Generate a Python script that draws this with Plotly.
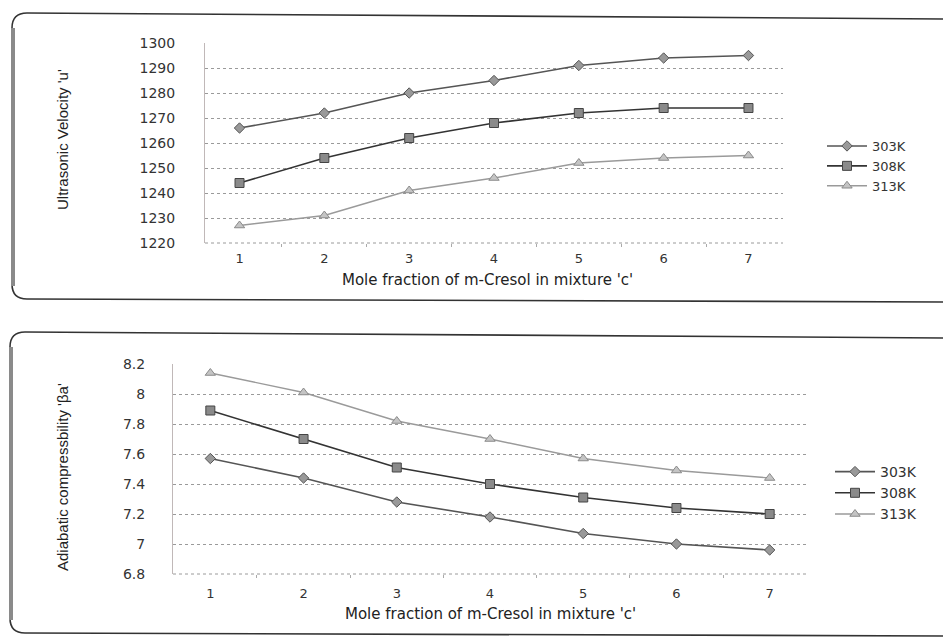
import plotly.graph_objects as go

W, H = 943, 637

# ---------------- data ----------------
categories = ["1", "2", "3", "4", "5", "6", "7"]
series_names = ["303K", "308K", "313K"]

velocity_303 = [1266, 1272, 1280, 1285, 1291, 1294, 1295]
velocity_308 = [1244, 1254, 1262, 1268, 1272, 1274, 1274]
velocity_313 = [1227, 1231, 1241, 1246, 1252, 1254, 1255]

compress_303 = [7.57, 7.44, 7.28, 7.18, 7.07, 7.00, 6.96]
compress_308 = [7.89, 7.70, 7.51, 7.40, 7.31, 7.24, 7.20]
compress_313 = [8.14, 8.01, 7.82, 7.70, 7.57, 7.49, 7.44]

x_title = "Mole fraction of m-Cresol in mixture 'c'"
y_title_top = "Ultrasonic Velocity 'u'"
y_title_bot = "Adiabatic compressbility 'βa'"


def px(x):
    return x / W


def py(y):
    return 1 - y / H


WIDE = "DejaVu Sans"
NARROW = "Liberation Sans Narrow, Arial Narrow, Liberation Sans"

styles = {
    "303K": dict(line=dict(color="#555555", width=1.6),
                 marker=dict(symbol="diamond", size=8, color="#999999",
                             line=dict(color="#555555", width=1))),
    "308K": dict(line=dict(color="#333333", width=1.6),
                 marker=dict(symbol="square", size=9, color="#8a8a8a",
                             line=dict(color="#444444", width=1))),
    "313K": dict(line=dict(color="#9a9a9a", width=1.4),
                 marker=dict(symbol="triangle-up", size=9, color="#c4c4c4",
                             line=dict(color="#8a8a8a", width=1))),
}

fig = go.Figure()

top_vals = [velocity_303, velocity_308, velocity_313]
bot_vals = [compress_303, compress_308, compress_313]

for name, vals in zip(series_names, top_vals):
    fig.add_trace(go.Scatter(x=categories, y=vals, name=name, mode="lines+markers",
                             xaxis="x", yaxis="y", legend="legend", **styles[name]))
for name, vals in zip(series_names, bot_vals):
    fig.add_trace(go.Scatter(x=categories, y=vals, name=name, mode="lines+markers",
                             xaxis="x2", yaxis="y2", legend="legend2", **styles[name]))

axis_common_x = dict(type="category", showgrid=False, showline=False, zeroline=False,
                     ticks="outside", tickson="boundaries", ticklen=3, tickcolor="#aaaaaa",
                     tickfont=dict(family=WIDE, size=13, color="#333333"))
axis_common_y = dict(showgrid=True, gridcolor="#9a9a9a", griddash="dot", gridwidth=1,
                     showline=True, linecolor="#c0b8b8", linewidth=1, zeroline=False,
                     ticks="", tickfont=dict(family=WIDE, size=14, color="#333333"))

fig.update_layout(
    width=W, height=H,
    margin=dict(l=0, r=0, t=0, b=0, autoexpand=False),
    paper_bgcolor="white", plot_bgcolor="white",
    xaxis=dict(domain=[px(205), px(783)], anchor="y", ticklabelstandoff=6, **axis_common_x),
    yaxis=dict(domain=[py(243), py(43)], anchor="x", range=[1220, 1300], dtick=10,
               ticklabelstandoff=26, **axis_common_y),
    xaxis2=dict(domain=[px(173), px(807)], anchor="y2", ticklabelstandoff=10, **axis_common_x),
    yaxis2=dict(domain=[py(574), py(364)], anchor="x2", range=[6.8, 8.2], dtick=0.2,
                ticklabelstandoff=24, **axis_common_y),
    legend=dict(x=px(822), y=py(131), xanchor="left", yanchor="top",
                font=dict(family=WIDE, size=13, color="#333333"),
                bgcolor="rgba(0,0,0,0)", itemwidth=40, tracegroupgap=0),
    legend2=dict(x=px(830), y=py(456), xanchor="left", yanchor="top",
                 font=dict(family=WIDE, size=14, color="#333333"),
                 bgcolor="rgba(0,0,0,0)", itemwidth=40, tracegroupgap=0),
    showlegend=True,
)

annotations = [
    dict(text=x_title, x=px(487), y=py(280), showarrow=False,
         font=dict(family=WIDE, size=15, color="#222222"), xanchor="center", yanchor="middle"),
    dict(text=x_title, x=px(490), y=py(614), showarrow=False,
         font=dict(family=WIDE, size=15, color="#222222"), xanchor="center", yanchor="middle"),
    dict(text=y_title_top, x=px(62), y=py(140), showarrow=False, textangle=-90,
         font=dict(family=NARROW, size=15, color="#222222"), xanchor="center", yanchor="middle"),
    dict(text=y_title_bot, x=px(62), y=py(477), showarrow=False, textangle=-90,
         font=dict(family=NARROW, size=15, color="#222222"), xanchor="center", yanchor="middle"),
]
for a in annotations:
    a.update(xref="paper", yref="paper")
fig.update_layout(annotations=annotations)


def box_path(left, top_l, top_r, bottom_l, bottom_r, r=15):
    pts = [
        f"M {px(W + 5)} {py(top_r)}",
        f"L {px(left + r)} {py(top_l)}",
        f"Q {px(left)} {py(top_l)} {px(left)} {py(top_l + r)}",
        f"L {px(left)} {py(bottom_l - r)}",
        f"Q {px(left)} {py(bottom_l)} {px(left + r)} {py(bottom_l)}",
        f"L {px(W + 5)} {py(bottom_r)}",
    ]
    return " ".join(pts)


shapes = [
    dict(type="path", path=box_path(12, 13, 19, 299, 302), xref="paper", yref="paper",
         line=dict(color="#333333", width=1.6)),
    dict(type="path", path=box_path(10, 332, 338, 633, 636), xref="paper", yref="paper",
         line=dict(color="#333333", width=1.6)),
    dict(type="line", x0=px(13), x1=px(13), y0=py(28), y1=py(286), xref="paper", yref="paper",
         line=dict(color="#8a8a8a", width=4)),
    dict(type="line", x0=px(11), x1=px(11), y0=py(347), y1=py(620), xref="paper", yref="paper",
         line=dict(color="#8a8a8a", width=4)),
    # dotted baselines along the category axes
    dict(type="line", xref="x domain", yref="y domain", x0=0, x1=1, y0=0, y1=0,
         line=dict(color="#9a9a9a", width=1, dash="dot")),
    dict(type="line", xref="x2 domain", yref="y2 domain", x0=0, x1=1, y0=0, y1=0,
         line=dict(color="#9a9a9a", width=1, dash="dot")),
]
fig.update_layout(shapes=shapes)

fig.write_html(
    "out.html",
    config={"displayModeBar": False},
    post_script="document.body.style.margin='0';document.body.style.padding='0';"
                "document.body.style.overflow='hidden';",
)
